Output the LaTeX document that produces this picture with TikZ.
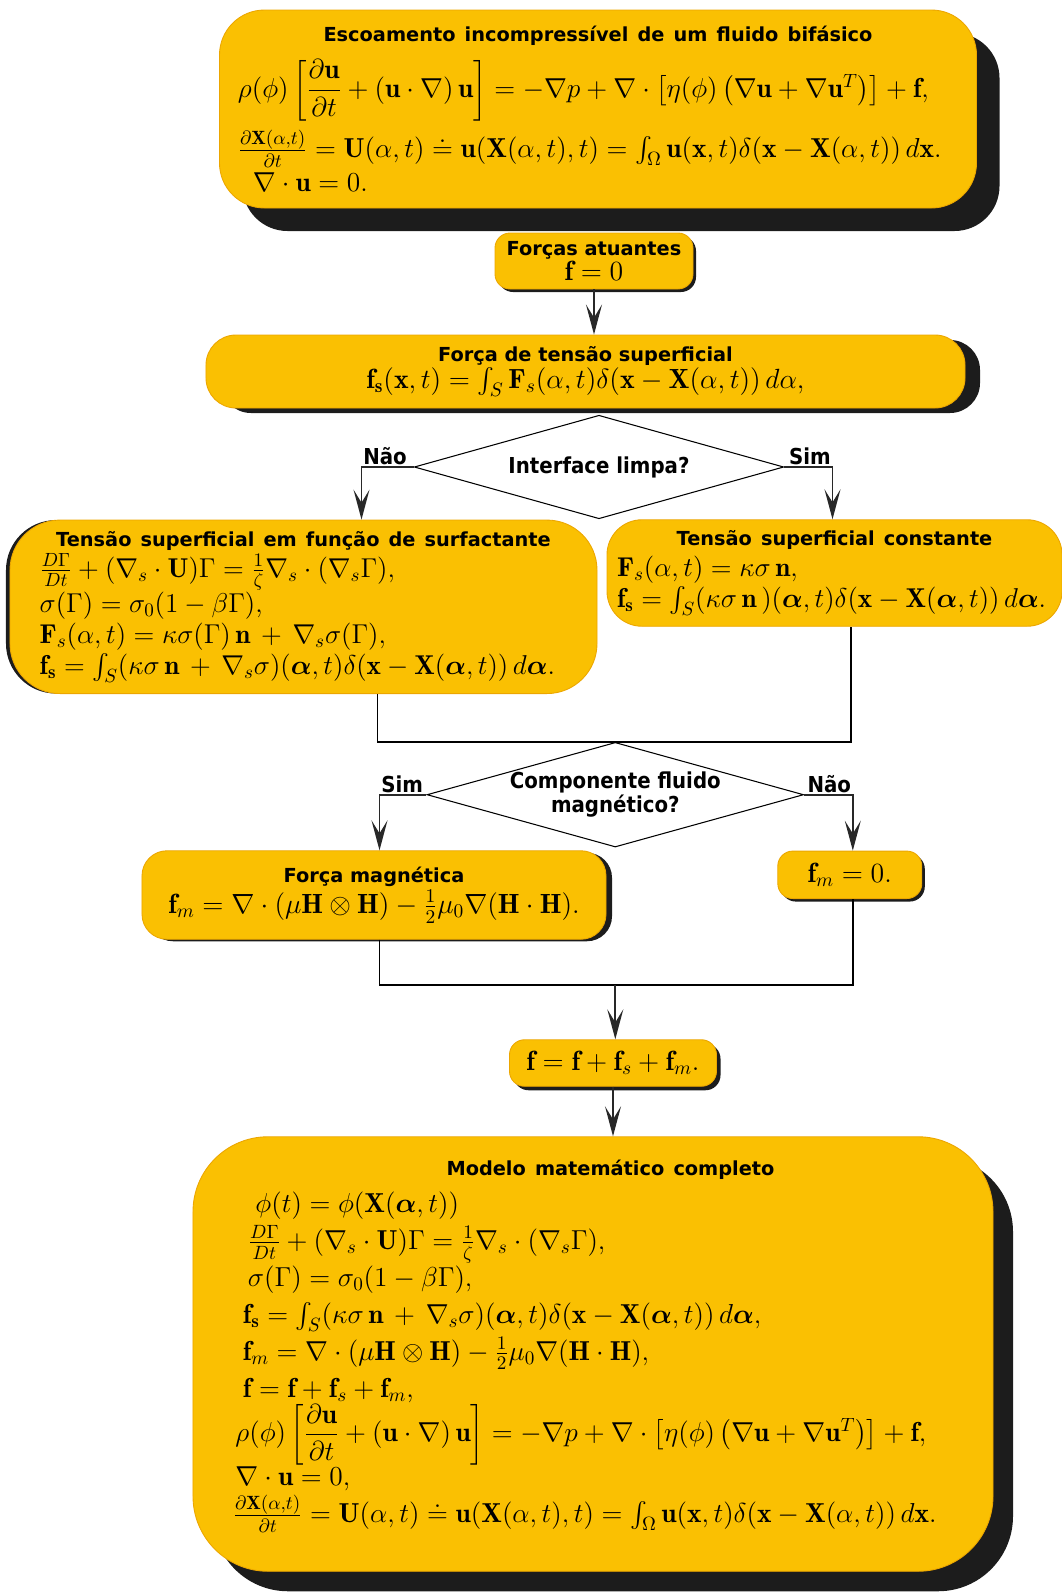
\RequirePackage{fix-cm}
\documentclass[tikz,border=0pt]{standalone}
\usepackage{amsmath}
\usepackage{fontspec}
\setsansfont{DejaVu Sans}
\newfontfamily\condensada{DejaVu Sans Condensed}
\usetikzlibrary{arrows.meta,positioning,shapes.geometric,shadows}
\tikzset{>={Stealth[length=6mm,width=3.2mm,inset=2.6mm]}}
\definecolor{amarelo}{RGB}{250,192,2}
\definecolor{borda}{RGB}{236,166,0}
\definecolor{sombra}{RGB}{28,28,28}
\definecolor{seta}{RGB}{40,40,40}
\newcommand{\titulo}[1]{{\sffamily\bfseries\fontsize{11}{13}\selectfont #1}}
\newcommand{\eqgrande}{\fontsize{15.6}{21}\selectfont}
\newcommand{\eqmedia}{\fontsize{15.8}{18}\selectfont}
\newcommand{\eqmenor}{\fontsize{15.5}{17.6}\selectfont}

\begin{document}
\begin{tikzpicture}[x=0.2mm,y=-0.2mm,
    caixa/.style={draw=borda,fill=amarelo,line width=0.5pt,rounded corners=#1,inner sep=0pt,align=left},
    caixa/.default=8mm,
    sombreada/.style 2 args={drop shadow={shadow xshift=#1,shadow yshift=-#2,fill=sombra,opacity=1}},
    decisao/.style={diamond,draw,fill=white,line width=0.6pt,inner sep=0pt,shape aspect=3.6,align=center,
      font=\condensada\bfseries\fontsize{12.5}{14}\selectfont},
    rotulo/.style={font=\condensada\bfseries\fontsize{12.5}{14}\selectfont,inner sep=0.5pt},
    linha/.style={line width=0.8pt},
    fluxo/.style={->,line width=1.1pt,draw=seta}]
  \path[use as bounding box] (0,0) rectangle (1062,1592);
  %
  \node[caixa=9mm,sombreada={4.6mm}{4.6mm},minimum width=151.4mm,minimum height=39.6mm,text width=144mm,font=\eqgrande] (escoamento) at (598,109) {%
    {\centering\titulo{Escoamento incompressível de um fluido bifásico}\par}\vspace{2.5mm}
    $\rho(\phi)\left[\dfrac{\partial\mathbf{u}}{\partial t}+(\mathbf{u}\cdot\nabla)\,\mathbf{u}\right]=-\nabla p+\nabla\cdot\left[\eta(\phi)\left(\nabla\mathbf{u}+\nabla\mathbf{u}^{T}\right)\right]+\mathbf{f},$\\[1.5mm]
    $\frac{\partial\mathbf{X}(\alpha,t)}{\partial t}=\mathbf{U}(\alpha,t)\doteq\mathbf{u}(\mathbf{X}(\alpha,t),t)=\int_{\Omega}\mathbf{u}(\mathbf{x},t)\delta(\mathbf{x}-\mathbf{X}(\alpha,t))\,d\mathbf{x}.$\\[-0.6mm]
    \hspace*{3mm}$\nabla\cdot\mathbf{u}=0.$};
  \node[caixa=3mm,sombreada={0.6mm}{0.6mm},minimum width=39.6mm,minimum height=11.2mm,align=center,font=\eqmedia] (forcas) at (594,261)
    {\titulo{Forças atuantes}\\[-4pt] $\mathbf{f}=0$};
  \node[caixa=6mm,sombreada={3mm}{1mm},minimum width=151.8mm,minimum height=14.6mm,align=center,font=\eqmedia] (tensao) at (585.5,371.5)
    {\titulo{Força de tensão superficial}\\[-3pt] $\mathbf{f}_{\mathbf{s}}(\mathbf{x},t)=\int_{S}\mathbf{F}_{s}(\alpha,t)\delta(\mathbf{x}-\mathbf{X}(\alpha,t))\,d\alpha,$};
  \node[decisao,minimum width=73.9mm,minimum height=20.7mm] (interface) at (599,467) {Interface limpa?};
  %
  \node[caixa=10mm,sombreada={-0.8mm}{0mm},minimum width=117.4mm,minimum height=34.7mm,text width=105.5mm,font=\eqmenor] (surfact) at (303.5,606.8) {%
    {\centering\titulo{Tensão superficial em função de surfactante}\par}
    $\frac{D\Gamma}{Dt}+(\nabla_{s}\cdot\mathbf{U})\Gamma=\frac{1}{\zeta}\nabla_{s}\cdot(\nabla_{s}\Gamma),$\\
    $\sigma(\Gamma)=\sigma_{0}(1-\beta\Gamma),$\\
    $\mathbf{F}_{s}(\alpha,t)=\kappa\sigma(\Gamma)\,\mathbf{n}\,+\,\nabla_{s}\sigma(\Gamma),$\\
    $\mathbf{f}_{\mathbf{s}}=\int_{S}(\kappa\sigma\,\mathbf{n}\,+\,\nabla_{s}\sigma)(\boldsymbol{\alpha},t)\delta(\mathbf{x}-\mathbf{X}(\boldsymbol{\alpha},t))\,d\boldsymbol{\alpha}.$};
  \node[caixa=7mm,minimum width=91mm,minimum height=21.3mm,text width=87mm,font=\eqmenor] (constante) at (834.5,573) {%
    {\centering\titulo{Tensão superficial constante}\par}
    $\mathbf{F}_{s}(\alpha,t)=\kappa\sigma\,\mathbf{n},$\\
    $\mathbf{f}_{\mathbf{s}}=\int_{S}(\kappa\sigma\,\mathbf{n}\,)(\boldsymbol{\alpha},t)\delta(\mathbf{x}-\mathbf{X}(\boldsymbol{\alpha},t))\,d\boldsymbol{\alpha}.$};
  %
  \node[decisao,minimum width=73.9mm,minimum height=20.3mm] (componente) at (615.3,794.7) {Componente fluido\\magnético?};
  \node[caixa=5mm,sombreada={1.2mm}{0.4mm},minimum width=92.8mm,minimum height=17.7mm,align=center,font=\eqmedia] (magnetica) at (374,895)
    {\titulo{Força magnética}\\ $\mathbf{f}_{m}=\nabla\cdot(\mu\mathbf{H}\otimes\mathbf{H})-\frac{1}{2}\mu_{0}\nabla(\mathbf{H}\cdot\mathbf{H}).$};
  \node[caixa=3mm,sombreada={0.6mm}{0.6mm},minimum width=28.8mm,minimum height=9.5mm,align=center,font=\eqmedia] (fmzero) at (849.8,874.8)
    {$\mathbf{f}_{m}=0.$};
  \coordinate (juncao) at (615.3,985);
  \node[caixa=3mm,sombreada={0.8mm}{0.8mm},minimum width=41.4mm,minimum height=9.3mm,align=center,font=\eqmedia] (fsoma) at (613,1063)
    {$\mathbf{f}=\mathbf{f}+\mathbf{f}_{s}+\mathbf{f}_{m}.$};
  %
  \node[caixa=15mm,sombreada={4mm}{4mm},minimum width=160mm,minimum height=86.9mm,text width=144mm,font=\eqgrande] (modelo) at (593,1354) {%
    {\centering\hspace*{7mm}\titulo{Modelo matemático completo}\par}
    \hspace*{4.5mm}$\phi(t)=\phi(\mathbf{X}(\boldsymbol{\alpha},t))$\\
    \hspace*{3mm}$\frac{D\Gamma}{Dt}+(\nabla_{s}\cdot\mathbf{U})\Gamma=\frac{1}{\zeta}\nabla_{s}\cdot(\nabla_{s}\Gamma),$\\
    \hspace*{3mm}$\sigma(\Gamma)=\sigma_{0}(1-\beta\Gamma),$\\
    \hspace*{2mm}$\mathbf{f}_{\mathbf{s}}=\int_{S}(\kappa\sigma\,\mathbf{n}\,+\,\nabla_{s}\sigma)(\boldsymbol{\alpha},t)\delta(\mathbf{x}-\mathbf{X}(\boldsymbol{\alpha},t))\,d\boldsymbol{\alpha},$\\
    \hspace*{2mm}$\mathbf{f}_{m}=\nabla\cdot(\mu\mathbf{H}\otimes\mathbf{H})-\frac{1}{2}\mu_{0}\nabla(\mathbf{H}\cdot\mathbf{H}),$\\
    \hspace*{2mm}$\mathbf{f}=\mathbf{f}+\mathbf{f}_{s}+\mathbf{f}_{m},$\\
    \hspace*{0.5mm}$\rho(\phi)\left[\dfrac{\partial\mathbf{u}}{\partial t}+(\mathbf{u}\cdot\nabla)\,\mathbf{u}\right]=-\nabla p+\nabla\cdot\left[\eta(\phi)\left(\nabla\mathbf{u}+\nabla\mathbf{u}^{T}\right)\right]+\mathbf{f},$\\
    \hspace*{0.5mm}$\nabla\cdot\mathbf{u}=0,$\\
    $\frac{\partial\mathbf{X}(\alpha,t)}{\partial t}=\mathbf{U}(\alpha,t)\doteq\mathbf{u}(\mathbf{X}(\alpha,t),t)=\int_{\Omega}\mathbf{u}(\mathbf{x},t)\delta(\mathbf{x}-\mathbf{X}(\alpha,t))\,d\mathbf{x}.$\rule[-5mm]{0pt}{0pt}};
  %
  \draw[fluxo] (forcas.south) -- (forcas.south |- tensao.north);
  \draw[fluxo] (interface.west) -| node[rotulo,pos=0.5,above right]{Não} ([xshift=11.6mm]surfact.north);
  \draw[fluxo] (interface.east) -| node[rotulo,pos=0.5,above left]{Sim} ([xshift=-0.4mm]constante.north);
  \draw[linha] ([xshift=14.8mm]surfact.south) |- (componente.north) -| ([xshift=3.3mm]constante.south);
  \draw[fluxo] (componente.west) -| node[rotulo,pos=0.5,above right]{Sim} ([xshift=1.1mm]magnetica.north);
  \draw[fluxo] (componente.east) -| node[rotulo,pos=0.5,above left]{Não} ([xshift=0.6mm]fmzero.north);
  \draw[linha] ([xshift=1.1mm]magnetica.south) |- (juncao) -| ([xshift=0.6mm]fmzero.south);
  \draw[fluxo] (juncao) -- (juncao |- fsoma.north);
  \draw[fluxo] (fsoma.south) -- (fsoma.south |- modelo.north);
\end{tikzpicture}
\end{document}
